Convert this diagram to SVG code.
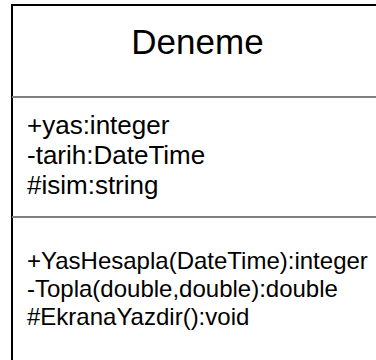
<svg xmlns="http://www.w3.org/2000/svg" width="376" height="360" viewBox="0 0 376 360">
<style>
.t{font-family:"Liberation Sans",Arial,sans-serif;fill:#000}
.a{font-size:26px}
.m{font-size:24px}
.h{font-size:35px}
.div{stroke:#808080;stroke-width:2}
</style>
<rect width="376" height="360" fill="#fff"/>
<g id="class-Deneme">
<rect x="12" y="5" width="380" height="380" fill="#fff" stroke="#000" stroke-width="2"/>
<line class="div" x1="12" y1="97" x2="376" y2="97"/>
<line class="div" x1="12" y1="217" x2="376" y2="217"/>
<text class="t h" x="197.5" y="54" text-anchor="middle">Deneme</text>
<text class="t a" x="27" y="134">+yas:integer</text>
<text class="t a" x="27" y="164">-tarih:DateTime</text>
<text class="t a" x="27" y="194">#isim:string</text>
<text class="t m" x="27" y="269">+YasHesapla(DateTime):integer</text>
<text class="t m" x="27" y="297">-Topla(double,double):double</text>
<text class="t m" x="27" y="325">#EkranaYazdir():void</text>
</g>
<g id="connectors"/>
</svg>
